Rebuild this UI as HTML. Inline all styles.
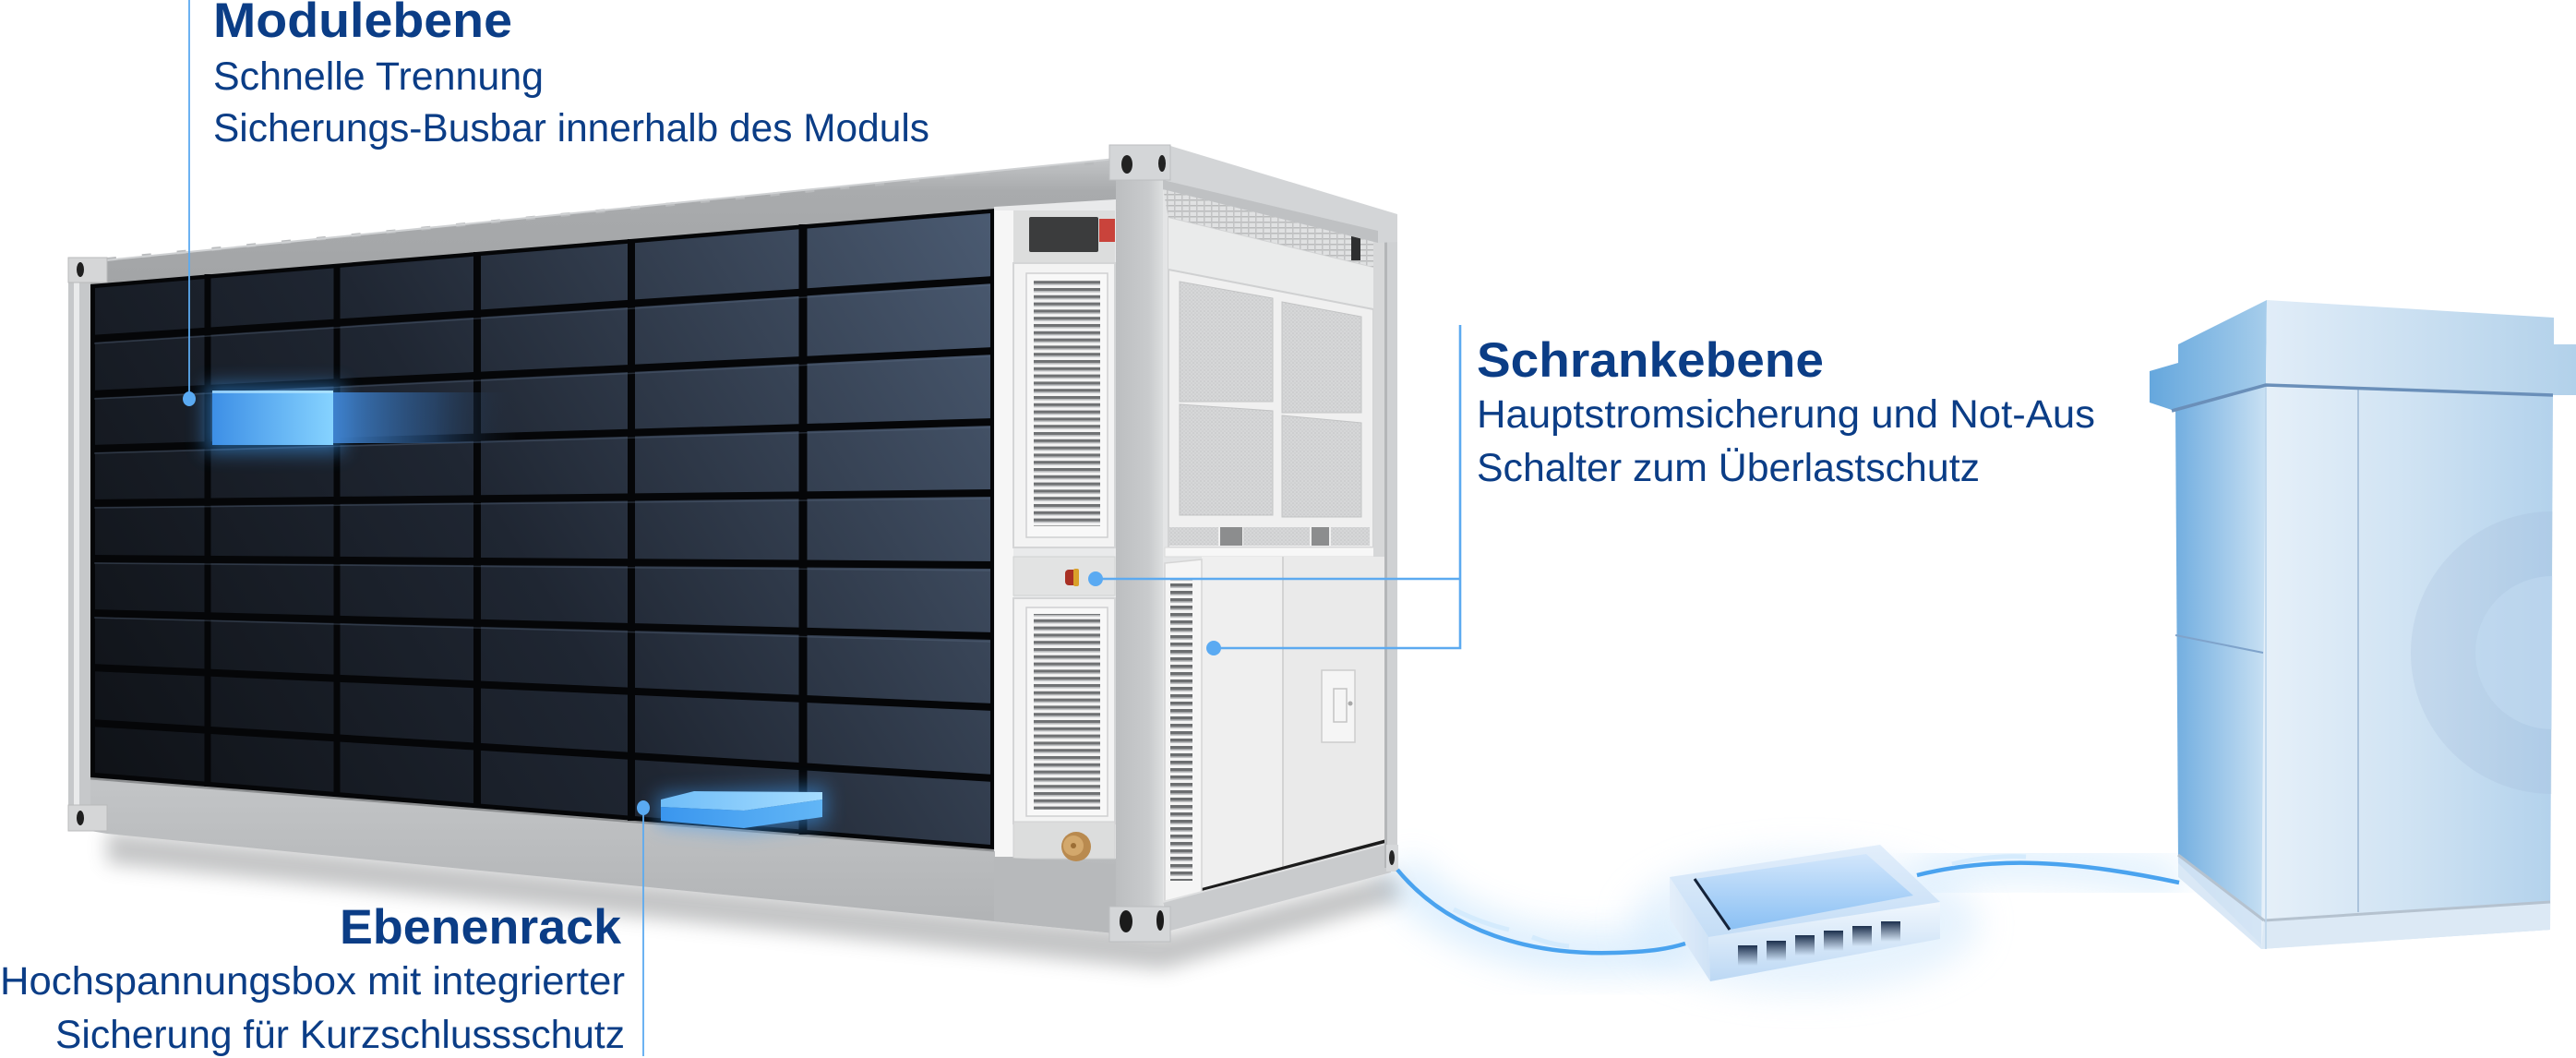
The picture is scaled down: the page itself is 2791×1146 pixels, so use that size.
<!DOCTYPE html>
<html><head><meta charset="utf-8">
<style>
html,body{margin:0;padding:0;background:#fff;width:2791px;height:1146px;overflow:hidden;}
svg{display:block;}
.t{font-family:"Liberation Sans",Arial,sans-serif;fill:#0b3d86;}
</style></head><body>
<svg width="2791" height="1146" viewBox="0 0 2791 1146" xmlns="http://www.w3.org/2000/svg">
<defs>
  <linearGradient id="panelG" gradientUnits="userSpaceOnUse" x1="98" y1="842" x2="1077" y2="226">
    <stop offset="0" stop-color="#0f1217"/>
    <stop offset="0.45" stop-color="#1f2632"/>
    <stop offset="1" stop-color="#4b5b72"/>
  </linearGradient>
  <linearGradient id="topRail" x1="0" y1="0" x2="0" y2="1">
    <stop offset="0" stop-color="#c2c4c6"/><stop offset="0.25" stop-color="#a9abad"/><stop offset="1" stop-color="#a2a4a6"/>
  </linearGradient>
  <linearGradient id="botRail" x1="0" y1="0" x2="0" y2="1">
    <stop offset="0" stop-color="#c3c5c7"/><stop offset="1" stop-color="#b0b2b4"/>
  </linearGradient>
  <linearGradient id="postG" x1="0" y1="0" x2="1" y2="0">
    <stop offset="0" stop-color="#bcbec0"/><stop offset="0.7" stop-color="#c9cbcd"/><stop offset="1" stop-color="#dcdedf"/>
  </linearGradient>
  <pattern id="slat" width="20" height="7.8" patternUnits="userSpaceOnUse">
    <rect width="20" height="7.8" fill="#f3f3f3"/>
    <rect y="0" width="20" height="3.2" fill="#6f7173"/>
    <rect y="3.2" width="20" height="1.4" fill="#b9bbbd"/>
  </pattern>
  <pattern id="slat2" width="30" height="8" patternUnits="userSpaceOnUse">
    <rect width="30" height="8" fill="#f3f3f3"/>
    <rect y="0" width="30" height="3.4" fill="#6c6e70"/>
    <rect y="3.4" width="30" height="1.4" fill="#b5b7b9"/>
  </pattern>
  <pattern id="mesh" width="4" height="4" patternUnits="userSpaceOnUse">
    <rect width="4" height="4" fill="#d6d7d8"/>
    <circle cx="1" cy="1" r="0.8" fill="#c2c3c4"/>
    <circle cx="3" cy="3" r="0.8" fill="#c8c9ca"/>
  </pattern>
  <pattern id="grate" width="8" height="6" patternUnits="userSpaceOnUse">
    <rect width="8" height="6" fill="#e0e1e2"/>
    <rect x="0" y="0" width="8" height="1.5" fill="#b9babb"/>
    <rect x="0" y="0" width="1.5" height="6" fill="#c2c3c4"/>
  </pattern>
  <linearGradient id="modG" x1="0" y1="0" x2="1" y2="0">
    <stop offset="0" stop-color="#3d8fe6"/><stop offset="1" stop-color="#86d3ff"/>
  </linearGradient>
  <linearGradient id="modFade" x1="0" y1="0" x2="1" y2="0">
    <stop offset="0" stop-color="#3f84d2" stop-opacity="0.95"/>
    <stop offset="0.55" stop-color="#2f5f98" stop-opacity="0.5"/>
    <stop offset="1" stop-color="#1e2a3a" stop-opacity="0"/>
  </linearGradient>
  <linearGradient id="slabTop" x1="0" y1="0" x2="1" y2="0">
    <stop offset="0" stop-color="#6fbdf8"/><stop offset="1" stop-color="#a5dcff"/>
  </linearGradient>
  <linearGradient id="slabFront" x1="0" y1="0" x2="1" y2="0">
    <stop offset="0" stop-color="#3a96ee"/><stop offset="1" stop-color="#62b6f6"/>
  </linearGradient>
  <linearGradient id="cabLeft" x1="0" y1="0" x2="1" y2="0">
    <stop offset="0" stop-color="#72aee0"/><stop offset="1" stop-color="#c8e0f3"/>
  </linearGradient>
  <linearGradient id="cabFront" x1="0" y1="0" x2="1" y2="0">
    <stop offset="0" stop-color="#e6f0f9"/><stop offset="0.5" stop-color="#d0e3f3"/><stop offset="1" stop-color="#b3d2ec"/>
  </linearGradient>
  <linearGradient id="capLeft" x1="0" y1="0" x2="1" y2="0">
    <stop offset="0" stop-color="#65a7dd"/><stop offset="1" stop-color="#a6cdeb"/>
  </linearGradient>
  <linearGradient id="capFront" x1="0" y1="0" x2="1" y2="0">
    <stop offset="0" stop-color="#e1edf8"/><stop offset="1" stop-color="#b2d1ea"/>
  </linearGradient>
  <linearGradient id="rtTop" x1="0" y1="0" x2="0" y2="1">
    <stop offset="0" stop-color="#e2eefb"/><stop offset="1" stop-color="#c4ddf6"/>
  </linearGradient>
  <linearGradient id="rtScreen" x1="0" y1="0" x2="0" y2="1">
    <stop offset="0" stop-color="#d2e6fb"/><stop offset="1" stop-color="#8ac0f4"/>
  </linearGradient>
  <linearGradient id="rtFront" x1="0" y1="0" x2="0" y2="1">
    <stop offset="0" stop-color="#f1f7fd"/><stop offset="1" stop-color="#bcd8f4"/>
  </linearGradient>
  <linearGradient id="rtLeft" x1="0" y1="0" x2="1" y2="0">
    <stop offset="0" stop-color="#e4effa"/><stop offset="1" stop-color="#cfe2f6"/>
  </linearGradient>
  <linearGradient id="port" x1="0" y1="0" x2="0" y2="1">
    <stop offset="0" stop-color="#1b2f4d"/><stop offset="1" stop-color="#1b2f4d" stop-opacity="0"/>
  </linearGradient>
  <filter id="b4" x="-50%" y="-50%" width="200%" height="200%"><feGaussianBlur stdDeviation="4"/></filter>
  <filter id="b10" x="-50%" y="-50%" width="200%" height="200%"><feGaussianBlur stdDeviation="10"/></filter>
  <filter id="b18" x="-50%" y="-50%" width="200%" height="200%"><feGaussianBlur stdDeviation="18"/></filter>
  <clipPath id="cabClip"><polygon points="2455,417 2766,428 2764,977 2455,997"/></clipPath>
</defs>

<!-- ===== ground shadows ===== -->
<polygon points="116,900 1209,1005 1260,1012 1510,945 1520,975 1260,1050 1209,1045 116,935" fill="#7d7f81" opacity="0.45" filter="url(#b10)"/>

<!-- ===== cable glow ===== -->
<path d="M1514,942 C1570,1010 1660,1035 1750,1032 C1790,1031 1810,1027 1826,1022" fill="none" stroke="#9dd0fa" stroke-width="46" opacity="0.35" filter="url(#b18)"/>
<path d="M2077,948 C2150,930 2230,928 2361,956" fill="none" stroke="#9dd0fa" stroke-width="40" opacity="0.3" filter="url(#b18)"/>
<ellipse cx="1955" cy="1000" rx="190" ry="75" fill="#d3e9fc" opacity="0.55" filter="url(#b18)"/>

<!-- ===== END FACE (right short side) ===== -->
<polygon points="1260,200 1500,255 1500,948 1260,1000" fill="#e4e5e6"/>
<polygon points="1260,203 1493,262 1493,292 1266,237" fill="url(#grate)"/>
<rect x="1464" y="252" width="10" height="30" fill="#2e2f30"/>
<polygon points="1266,236 1488,290 1488,593 1266,593" fill="#f0f0f0" stroke="#d2d3d4" stroke-width="2"/>
<polygon points="1266,236 1488,290 1488,335 1266,292" fill="#eaebeb"/>
<line x1="1266" y1="292" x2="1488" y2="335" stroke="#cfd0d1" stroke-width="2"/>
<polygon points="1278,305 1379,323 1379,435 1278,435" fill="url(#mesh)" stroke="#c2c3c4"/>
<polygon points="1389,327 1475,343 1475,447 1389,447" fill="url(#mesh)" stroke="#c2c3c4"/>
<polygon points="1278,438 1379,445 1379,558 1278,558" fill="url(#mesh)" stroke="#c2c3c4"/>
<polygon points="1389,450 1475,458 1475,560 1389,560" fill="url(#mesh)" stroke="#c2c3c4"/>
<rect x="1267" y="571" width="53" height="20" fill="url(#mesh)"/>
<rect x="1322" y="571" width="24" height="20" fill="#8c8d8e"/>
<rect x="1347" y="571" width="72" height="20" fill="url(#mesh)"/>
<rect x="1421" y="571" width="19" height="20" fill="#8c8d8e"/>
<rect x="1442" y="571" width="42" height="20" fill="url(#mesh)"/>
<rect x="1262" y="593" width="240" height="10" fill="#f7f7f7" stroke="#dadada"/>
<rect x="1488" y="260" width="12" height="680" fill="#d6d7d8"/>
<polygon points="1302,603 1390,603 1390,941 1302,963" fill="#efefef"/>
<polygon points="1390,603 1502,603 1502,911 1390,941" fill="#eaeaea"/>
<line x1="1390" y1="603" x2="1390" y2="941" stroke="#d3d3d3" stroke-width="2"/>
<line x1="1302" y1="964" x2="1502" y2="911" stroke="#1c1c1c" stroke-width="4"/>
<rect x="1432" y="726" width="36" height="78" fill="#f5f5f5" stroke="#cdcdcd" stroke-width="1.5"/>
<rect x="1445" y="746" width="14" height="36" fill="none" stroke="#c4c4c4" stroke-width="1.5"/>
<circle cx="1463" cy="762" r="2.5" fill="#a8a8a8"/>
<polygon points="1262,610 1302,606 1302,970 1262,976" fill="#f5f5f5" stroke="#d5d5d5" stroke-width="1.5"/>
<rect x="1268" y="626" width="24" height="328" fill="url(#slat2)"/>
<polygon points="1260,977 1505,913 1507,945 1268,1008" fill="#c9cbcd"/>
<line x1="1260" y1="977" x2="1505" y2="913" stroke="#dfe0e1" stroke-width="2"/>
<rect x="1500" y="240" width="14" height="700" fill="#cfd1d3"/>
<rect x="1500" y="240" width="3" height="700" fill="#b4b6b8"/>
<rect x="1493" y="233" width="21" height="29" fill="#d6d8da"/>
<ellipse cx="1506" cy="247" rx="3.5" ry="8" fill="#262626"/>
<rect x="1502" y="915" width="13" height="29" fill="#d6d8da"/>
<ellipse cx="1508" cy="929" rx="3" ry="8" fill="#262626"/>
<polygon points="1260,160 1268,158 1514,232 1514,262 1493,263 1260,205" fill="#d3d5d7"/>
<polygon points="1260,195 1493,250 1493,263 1260,205" fill="#bfc1c3"/>

<!-- ===== LONG SIDE ===== -->
<polygon points="74,286 1209,172 1209,218 1077,226 98,310 74,312" fill="url(#topRail)"/>
<line x1="116" y1="281" x2="1200" y2="175" stroke="#b9bbbd" stroke-width="4" stroke-dasharray="10 28"/>
<line x1="74" y1="286" x2="1209" y2="172" stroke="#cfd1d3" stroke-width="2"/>
<polygon points="98,842 1077,920 1209,930 1209,1011 116,903 98,900" fill="url(#botRail)"/>
<line x1="98" y1="843" x2="1077" y2="921" stroke="#8d8f91" stroke-width="3"/>
<polygon points="98,308 1077,226 1077,920 98,842" fill="#050608"/>
<polygon points="103,312 1073,231 1073,915 103,837" fill="url(#panelG)"/>
<g stroke="#050608" stroke-width="8">
  <line x1="98" y1="367" x2="1077" y2="303"/>
  <line x1="98" y1="427" x2="1077" y2="380"/>
  <line x1="98" y1="486" x2="1077" y2="457"/>
  <line x1="98" y1="545" x2="1077" y2="534"/>
  <line x1="98" y1="605" x2="1077" y2="612"/>
  <line x1="98" y1="664" x2="1077" y2="689"/>
  <line x1="98" y1="723" x2="1077" y2="766"/>
  <line x1="98" y1="783" x2="1077" y2="843"/>
  <line x1="225" y1="297" x2="225" y2="852" stroke-width="7"/>
  <line x1="365" y1="286" x2="365" y2="863" stroke-width="7"/>
  <line x1="517" y1="273" x2="517" y2="875" stroke-width="8"/>
  <line x1="684" y1="259" x2="684" y2="889" stroke-width="8"/>
  <line x1="870" y1="243" x2="870" y2="904" stroke-width="9"/>
</g>
<g stroke="#5d6e86" stroke-width="1.5" opacity="0.35">
  <line x1="102" y1="372" x2="1073" y2="309"/>
  <line x1="102" y1="432" x2="1073" y2="386"/>
  <line x1="102" y1="491" x2="1073" y2="463"/>
  <line x1="102" y1="550" x2="1073" y2="540"/>
  <line x1="102" y1="610" x2="1073" y2="618"/>
  <line x1="102" y1="669" x2="1073" y2="695"/>
</g>

<rect x="74" y="300" width="24" height="580" fill="#c6c8ca"/>
<rect x="80" y="300" width="6" height="580" fill="#e9eaeb"/>
<rect x="74" y="279" width="42" height="27" fill="#d5d6d7" stroke="#b9babb"/>
<ellipse cx="87" cy="292" rx="4" ry="8" fill="#1f1f1f"/>
<rect x="74" y="872" width="42" height="28" fill="#d5d6d7" stroke="#b9babb"/>
<ellipse cx="87" cy="886" rx="4" ry="8" fill="#1f1f1f"/>

<polygon points="1077,224 1209,216 1209,930 1077,922" fill="#e9eaeb"/>
<rect x="1078" y="228" width="20" height="700" fill="#f6f6f6"/>
<rect x="1098" y="228" width="110" height="56" fill="#dcdddd"/>
<rect x="1115" y="235" width="75" height="38" fill="#3b3c3d" rx="2"/>
<rect x="1191" y="237" width="17" height="25" fill="#c9433b"/>
<rect x="1098" y="285" width="110" height="308" fill="#f3f3f3" stroke="#d4d5d6" stroke-width="2"/>
<rect x="1112" y="296" width="88" height="286" fill="#f8f8f8" stroke="#cfd0d1" stroke-width="1.5"/>
<rect x="1120" y="303" width="72" height="267" fill="url(#slat)"/>
<rect x="1098" y="603" width="110" height="42" fill="#e2e3e3" stroke="#d0d1d2"/>
<rect x="1154" y="617" width="13" height="17" rx="4" fill="#a83024"/>
<rect x="1163" y="616" width="6" height="19" rx="2" fill="#d9a02a"/>
<rect x="1098" y="648" width="110" height="244" fill="#f3f3f3" stroke="#d4d5d6" stroke-width="2"/>
<rect x="1112" y="658" width="88" height="226" fill="#f8f8f8" stroke="#cfd0d1" stroke-width="1.5"/>
<rect x="1120" y="665" width="72" height="212" fill="url(#slat)"/>
<rect x="1098" y="890" width="110" height="40" fill="#dcdddd" stroke="#cfd0d1"/>
<circle cx="1166" cy="917" r="16" fill="#b98a4f"/>
<circle cx="1163" cy="916" r="11" fill="#d3a86c"/>
<circle cx="1163" cy="916" r="3" fill="#9c6e35"/>
<polygon points="1077,928 1209,936 1209,1011 1077,998" fill="#b7b9bb"/>

<rect x="1209" y="190" width="51" height="795" fill="url(#postG)"/>
<rect x="1202" y="157" width="66" height="38" fill="#d4d6d8" stroke="#bcbec0"/>
<ellipse cx="1221" cy="178" rx="6" ry="10" fill="#222"/>
<ellipse cx="1259" cy="177" rx="4" ry="9" fill="#222"/>
<rect x="1202" y="982" width="66" height="38" fill="#d4d6d8" stroke="#bcbec0"/>
<ellipse cx="1220" cy="998" rx="7" ry="12" fill="#1b1b1b"/>
<ellipse cx="1257" cy="997" rx="4" ry="11" fill="#1b1b1b"/>

<!-- ===== highlights ===== -->
<rect x="222" y="416" width="150" height="74" fill="#3e9cf5" opacity="0.55" filter="url(#b10)"/>
<rect x="361" y="425" width="200" height="55" fill="url(#modFade)"/>
<rect x="230" y="423" width="131" height="59" fill="url(#modG)"/>
<rect x="230" y="423" width="131" height="3" fill="#b5e6ff" opacity="0.7"/>

<polygon points="712,860 895,852 895,892 806,902 712,894" fill="#3e9cf5" opacity="0.55" filter="url(#b10)"/>
<polygon points="716,866 752,857 891,858 891,866 806,878 716,874" fill="url(#slabTop)"/>
<polygon points="716,874 806,878 891,866 891,885 806,897 716,889" fill="url(#slabFront)"/>

<!-- ===== cable ===== -->
<path d="M1514,942 C1570,1010 1660,1035 1750,1032 C1790,1031 1810,1027 1826,1022" fill="none" stroke="#4aa3ef" stroke-width="4.5"/>
<path d="M2077,948 C2150,930 2230,928 2361,956" fill="none" stroke="#4aa3ef" stroke-width="4.5"/>
<path d="M1575,985 q30,15 60,22 M1660,1015 q20,8 40,10" fill="none" stroke="#cfe8fd" stroke-width="5" opacity="0.8"/>
<path d="M2115,936 q40,-10 80,-8" fill="none" stroke="#cfe8fd" stroke-width="5" opacity="0.8"/>

<!-- ===== router ===== -->
<polygon points="1809,950 1851,1015 1853,1063 1809,995" fill="url(#rtLeft)"/>
<polygon points="1851,1015 2102,977 2102,1017 1853,1063" fill="url(#rtFront)"/>
<polygon points="1809,950 2037,915 2102,977 1851,1015" fill="url(#rtTop)"/>
<polygon points="1836,952 2022,925 2073,970 1874,1007" fill="url(#rtScreen)"/>
<line x1="1836" y1="952" x2="1874" y2="1007" stroke="#15233a" stroke-width="3"/>
<g fill="url(#port)">
  <rect x="1883" y="1024" width="21" height="22"/>
  <rect x="1914" y="1019" width="21" height="22"/>
  <rect x="1945" y="1013" width="21" height="22"/>
  <rect x="1976" y="1008" width="21" height="22"/>
  <rect x="2007" y="1003" width="21" height="22"/>
  <rect x="2038" y="998" width="21" height="22"/>
</g>

<!-- ===== cabinet ===== -->
<polygon points="2357,440 2455,417 2455,1028 2360,935" fill="url(#cabLeft)"/>
<polygon points="2360,926 2453,997 2450,1028 2360,950" fill="#d6e6f5" opacity="0.9"/>
<polygon points="2455,417 2766,428 2763,1007 2450,1028" fill="url(#cabFront)"/>
<g clip-path="url(#cabClip)">
  <circle cx="2765" cy="707" r="153" fill="#9fb8d6" opacity="0.22"/>
  <circle cx="2765" cy="707" r="83" fill="#c6def3" opacity="0.45"/>
</g>
<polygon points="2453,997 2763,977 2763,1007 2450,1028" fill="#dce9f5"/>
<line x1="2360" y1="926" x2="2453" y2="997" stroke="#b5c2cf" stroke-width="3"/>
<line x1="2453" y1="997" x2="2763" y2="977" stroke="#b5c2cf" stroke-width="3"/>
<line x1="2555" y1="420" x2="2555" y2="988" stroke="#aac3db" stroke-width="2"/>
<line x1="2455" y1="417" x2="2455" y2="1028" stroke="#b9d3ea" stroke-width="1.5"/>
<line x1="2357" y1="688" x2="2452" y2="707" stroke="#7fa3cb" stroke-width="2"/>
<polygon points="2329,402 2360,393 2360,373 2456,325 2455,417 2353,444 2329,436" fill="url(#capLeft)"/>
<polygon points="2456,325 2767,344 2767,373 2791,373 2791,428 2766,428 2455,417" fill="url(#capFront)"/>
<polyline points="2353,445 2455,417 2766,428" fill="none" stroke="#6a8fb9" stroke-width="3.5"/>

<!-- ===== connectors ===== -->
<g stroke="#5caaf0" fill="none">
  <line x1="205" y1="0" x2="205" y2="432" stroke-width="1.8"/>
  <line x1="697" y1="875" x2="697" y2="1144" stroke-width="1.8"/>
  <path d="M1187,627 H1582 M1582,352 V702 H1315" stroke-width="2.6"/>
</g>
<g fill="#5aaaf2">
  <ellipse cx="205" cy="432" rx="7" ry="8"/>
  <ellipse cx="697" cy="875" rx="7" ry="8"/>
  <circle cx="1187" cy="627" r="8"/>
  <circle cx="1315" cy="702" r="8"/>
</g>

<!-- ===== text ===== -->
<text class="t" x="231" y="40" font-size="53" font-weight="bold" textLength="324" lengthAdjust="spacingAndGlyphs">Modulebene</text>
<text class="t" x="231" y="97" font-size="43" textLength="358" lengthAdjust="spacingAndGlyphs">Schnelle Trennung</text>
<text class="t" x="231" y="153" font-size="43" textLength="776" lengthAdjust="spacingAndGlyphs">Sicherungs-Busbar innerhalb des Moduls</text>

<text class="t" x="1600" y="408" font-size="53" font-weight="bold" textLength="376" lengthAdjust="spacingAndGlyphs">Schrankebene</text>
<text class="t" x="1600" y="463" font-size="43" textLength="670" lengthAdjust="spacingAndGlyphs">Hauptstromsicherung und Not-Aus</text>
<text class="t" x="1600" y="521" font-size="43" textLength="545" lengthAdjust="spacingAndGlyphs">Schalter zum Überlastschutz</text>

<text class="t" x="368" y="1022" font-size="53" font-weight="bold" textLength="305" lengthAdjust="spacingAndGlyphs">Ebenenrack</text>
<text class="t" x="0" y="1077" font-size="43" textLength="677" lengthAdjust="spacingAndGlyphs">Hochspannungsbox mit integrierter</text>
<text class="t" x="60" y="1135" font-size="43" textLength="617" lengthAdjust="spacingAndGlyphs">Sicherung für Kurzschlussschutz</text>
</svg>
</body></html>
